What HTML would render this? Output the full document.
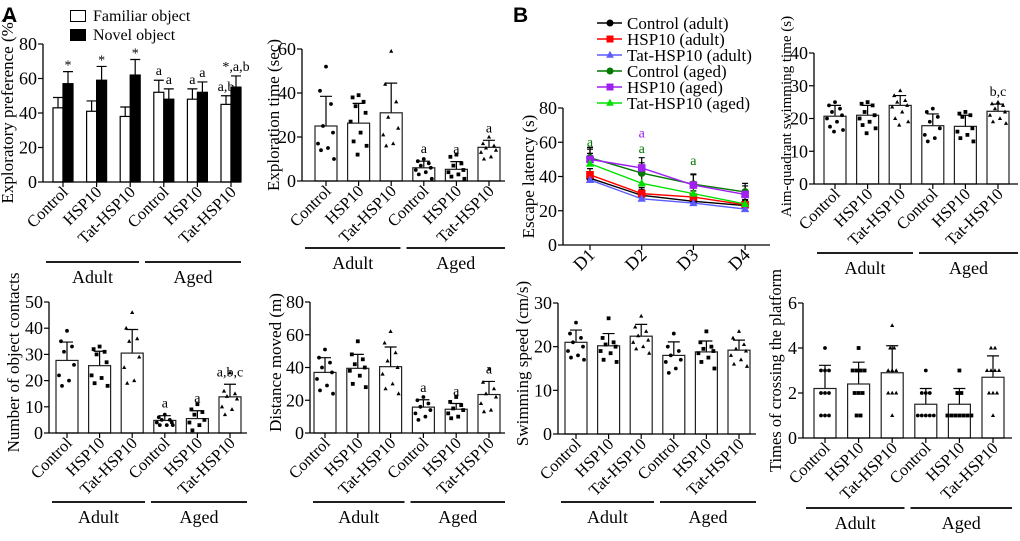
<!DOCTYPE html>
<html><head><meta charset="utf-8"><style>
html,body{margin:0;padding:0;background:#fff;}
svg, svg text{font-family:"Liberation Serif","Times New Roman","DejaVu Serif","Noto Serif CJK SC",serif;}
</style></head><body>
<svg id="fig" width="1020" height="536" viewBox="0 0 1020 536" xmlns="http://www.w3.org/2000/svg">
<text x="2" y="22" style="font-family:'Liberation Sans',sans-serif" font-weight="bold" font-size="21">A</text>
<text x="513" y="22" style="font-family:'Liberation Sans',sans-serif" font-weight="bold" font-size="21">B</text>
<g>
<rect x="70.5" y="10.5" width="15" height="11" fill="#fff" stroke="#000"/>
<text x="93" y="21" font-size="16">Familiar object</text>
<rect x="70.5" y="29.5" width="15" height="11" fill="#000" stroke="#000"/>
<text x="93" y="40" font-size="16">Novel object</text>
</g>
</svg>
<script>
const groupsCat = ["Control","HSP10","Tat-HSP10","Control","HSP10","Tat-HSP10"];
// Panel A1
const prefFamiliar = [43,41,38,52,48,45];
const prefFamiliarErr = [6,6,5.5,7,6,5];
const prefNovel = [57,59,62,48,52,55];
const prefNovelErr = [7,8,9,6,6,6.5];
const prefFamAnn = ["","","","a","a","a,b"];
const prefNovAnn = ["*","*","*","a","a","*,a,b"];
// Exploration time
const expTime = [25,26.3,31,6,5.3,15.3];
const expTimeErr = [13.5,9,13.5,3,3.5,3.2];
const expTimeAnn = ["","","","a","a","a"];
const expTimeDots = [[52,41,35,25,22,17,15,14,10],[39,38,36,34,31,27,22,18,16,12],[59,44,36,29,24,21,17,16],[10,9,8,7,6,5,4,3,1],[12,11,8,7,5,4,3,2,1],[20,17,16,15,14,13,11,10]];
// Contacts
const contacts = [27.7,25.7,30.5,4.8,5.5,13.8];
const contactsErr = [7,5.5,9,1.8,3,4.8];
const contactsAnn = ["","","","a","a","a,b,c"];
const contactsDots = [[39,35,33,31,26,22,20,18],[33,32,31,30,27,22,21,19,18],[46,40,36,35,29,25,20,19],[7,6,5,5,4,4,3,3,3],[11,9,8,7,5,4,3,1],[23,16,15,14,13,10,9,7]];
// Distance
const distance = [37,39.5,40.5,15.8,14.5,23.5];
const distanceErr = [9,8.5,12,4.5,3.5,8];
const distanceAnn = ["","","","a","a","a"];
const distanceDots = [[51,46,43,40,37,33,29,26,24],[56,48,45,42,40,38,35,30,28],[62,55,49,44,40,36,30,27,24],[22,20,18,16,14,12,10,8],[22,19,17,15,14,12,10,9],[39,31,27,24,22,18,14,13]];
// Swim speed
const speed = [21,20.2,22.4,18,18.8,19.2];
const speedErr = [2.8,2.8,2.7,3.1,2.5,2.3];
const speedAnn = ["","","","","",""];
const speedDots = [[25.5,23,22,21,20,19,18,17.5,17],[26.5,22,21,20.5,20,19,18.5,17,16.5],[27,24.5,23.5,22.5,21.5,21,20,19.5,18.5],[23,20,19,18,17,16.5,15,14],[23.5,21,20,19.5,19,18.5,17.5,16.5,15],[23.5,22,20.5,19.5,19,18,17,16,15.5]];
// Aim quadrant
const aimTime = [20.7,21,24,17.8,17.6,22.2];
const aimTimeErr = [3.3,3,3,3.6,3.4,2.2];
const aimAnn = ["","","","","","b,c"];
const aimDots = [[25,24,23,22,21,20,19,17.5,16.5,16],[25,24.5,24,22,21,20,19,18,17,15.5],[28.5,27,25.5,25,24,23.5,22,20,19,18],[23,22,20.5,19,17,15,14,13],[22,21.5,21,20.5,17,16,15,14,13],[25,24.5,24,23,22,21,20,19,18.5]];
// Crossings
const crossings = [2.2,2.4,2.9,1.5,1.5,2.7];
const crossingsErr = [1.03,0.97,1.2,0.7,0.7,0.95];
const crossAnn = ["","","","","",""];
const crossDots = [[4,3,3,3,2,2,2,1,1,1],[4,3,3,3,3,2,2,2,1,1],[5,4,4,3,3,3,2,2,2,1],[3,2,2,2,1,1,1,1,1],[3,2,2,1,1,1,1,1,1,1],[4,4,3,3,3,3,2,2,2,1]];
// Escape latency
const days = ["D1","D2","D3","D4"];
const latSeriesNames = ["Control (adult)","HSP10 (adult)","Tat-HSP10 (adult)","Control (aged)","HSP10 (aged)","Tat-HSP10 (aged)"];
const latCtrlAdult = [39,29,25.5,23];
const latHspAdult = [41,30,28,23.5];
const latTatAdult = [38,27,24.5,21];
const latCtrlAged = [51,42,35.5,31];
const latHspAged = [50,45,35,29.5];
const latTatAged = [47.5,36,30,24];
const latErr = [6,6,6,5];

const NS="http://www.w3.org/2000/svg";
const svg=document.getElementById('fig');
const JIT=[0,-6,5,-3,7,-8,2,-5,8,-1];
function mk(tag,attrs,parent){const e=document.createElementNS(NS,tag);for(const k in attrs)e.setAttribute(k,attrs[k]);(parent||svg).appendChild(e);return e;}
function marker(g,shape,x,y,r,color){
  let e;
  if(shape===0) e=mk('circle',{cx:x,cy:y,r:r,fill:color},g);
  else if(shape===1) e=mk('rect',{x:x-r,y:y-r,width:2*r,height:2*r,fill:color},g);
  else e=mk('polygon',{points:`${x},${y-r*1.2} ${x-r*1.1},${y+r*0.8} ${x+r*1.1},${y+r*0.8}`,fill:color},g);
  return e;
}
function axisY(g,o,ys){
  const ax=mk('line',{x1:o.ax,y1:o.y0,x2:o.ax,y2:o.yTop,stroke:'#000','stroke-width':1.3},g);
  
  
  const bx=mk('line',{x1:o.ax,y1:o.y0,x2:o.xEnd,y2:o.y0,stroke:'#000','stroke-width':1.3},g);
  
  
  for(let v=0;v<=o.ymax+1e-9;v+=o.step){
    const y=ys(v);
    const t=mk('line',{x1:o.ax-5,y1:y,x2:o.ax,y2:y,stroke:'#000','stroke-width':1.2},g);
    
    
    const l=mk('text',{x:o.ax-6,y:y+6,'font-size':18,'text-anchor':'end'},g);
    l.textContent=String(Math.round(v));
    
    
  }
  const tt=mk('text',{x:0,y:0,'font-size':o.tfs||17,'text-anchor':'middle',transform:`translate(${o.tx},${(o.y0+o.yTop)/2+(o.tdy||0)}) rotate(-90)`},g);
  tt.textContent=o.title;
  
  
}
function catLabels(g,o,centers){
  centers.forEach((c,i)=>{
    const t=mk('line',{x1:c,y1:o.y0,x2:c,y2:o.y0+5,stroke:'#000','stroke-width':1.2},g);
    
    
    const l=mk('text',{x:0,y:0,'font-size':16.5,'text-anchor':'end',transform:`translate(${c+6},${o.y0+11}) rotate(-45)`},g);
    l.textContent=groupsCat[i];
    
    
  });
  const mid=o.ax+(o.xEnd-o.ax)/2;
  [[o.ax+3,mid-3,'Adult'],[mid+3,o.xEnd,'Aged']].forEach(s=>{
    const ln=mk('line',{x1:s[0],y1:o.gy,x2:s[1],y2:o.gy,stroke:'#000','stroke-width':1.8},g);
    
    
    const tx=mk('text',{x:(s[0]+s[1])/2,y:o.gy+21,'font-size':18,'text-anchor':'middle'},g);
    tx.textContent=s[2];
    
    
  });
}
function errBar(g,x,yv,ye,cap){
  const e=mk('path',{d:`M${x},${yv}V${ye}M${x-cap},${ye}H${x+cap}`,stroke:'#000','stroke-width':1.2,fill:'none'},g);
  
  
}
function barPanel(o,vals,errs,dots,ann,name){
  const g=mk('g',{});
  
  
  const ys=v=>o.y0-(v/o.ymax)*(o.y0-o.yTop);
  const centers=vals.map((_,i)=>o.c0+i*o.cs);
  vals.forEach((v,i)=>{
    const c=centers[i];
    errBar(g,c,ys(v),ys(v+errs[i]),6);
    const b=mk('rect',{x:c-o.bw/2,y:ys(v),width:o.bw,height:o.y0-ys(v),fill:'#fff',stroke:'#222','stroke-width':1.2},g);
    
    
    const pts=dots[i];
    pts.forEach((d,k)=>{
      let off;
      if(o.discrete){
        let n=0;for(let j=0;j<k;j++) if(pts[j]===d) n++;
        let tot=pts.filter(p=>p===d).length;
        off=(n-(tot-1)/2)*4;
      } else off=JIT[k%JIT.length];
      const m=marker(g,i%3,c+off,ys(d),1.9,'#000');
      
      
    });
    if(ann[i]){
      const a=mk('text',{x:c,y:ys(v+errs[i])-8,'font-size':14,'text-anchor':'middle'},g);
      a.textContent=ann[i];
      
      
    }
  });
  axisY(g,o,ys);
  catLabels(g,o,centers);
}

// Panel A1 grouped bars
(function(){
  const o={ax:43,xEnd:241,y0:182,yTop:44,ymax:80,step:20,title:'Exploratory preference (%)',tx:13,tfs:17,gy:262,tdy:-3};
  const g=mk('g',{});
  
  
  const ys=v=>o.y0-(v/o.ymax)*(o.y0-o.yTop);
  const centers=prefFamiliar.map((_,i)=>63+i*33.6);
  centers.forEach((c,i)=>{
    const xf=c-5,xn=c+5;
    errBar(g,xf,ys(prefFamiliar[i]),ys(prefFamiliar[i]+prefFamiliarErr[i]),5);
    errBar(g,xn,ys(prefNovel[i]),ys(prefNovel[i]+prefNovelErr[i]),5);
    const b1=mk('rect',{x:xf-5,y:ys(prefFamiliar[i]),width:10,height:o.y0-ys(prefFamiliar[i]),fill:'#fff',stroke:'#000','stroke-width':1.2},g);
    
    
    const b2=mk('rect',{x:xn-5,y:ys(prefNovel[i]),width:10,height:o.y0-ys(prefNovel[i]),fill:'#000',stroke:'#000','stroke-width':1.2},g);
    
    
    [[xf,prefFamiliar[i]+prefFamiliarErr[i],prefFamAnn[i]],[xn,prefNovel[i]+prefNovelErr[i],prefNovAnn[i]]].forEach(s=>{
      if(!s[2])return;
      const a=mk('text',{x:s[0],y:ys(s[1])-5+(s[2]==='*'?3:0),'font-size':14,'text-anchor':'middle'},g);
      a.textContent=s[2];
      
      
    });
  });
  axisY(g,o,ys);
  catLabels(g,o,centers);
})();

barPanel({ax:302,xEnd:505,y0:181,yTop:49,ymax:60,step:20,c0:326,cs:32.6,bw:22,title:'Exploration time (sec)',tx:279,gy:248},expTime,expTimeErr,expTimeDots,expTimeAnn,'exploration-time-chart');
barPanel({ax:814,xEnd:1018,y0:184,yTop:53,ymax:40,step:10,c0:835,cs:32.6,bw:22,title:'Aim-quadrant swimming time (s)',tx:791,tdy:-2,tfs:15,gy:253},aimTime,aimTimeErr,aimDots,aimAnn,'aim-quadrant-chart');
barPanel({ax:49,xEnd:247,y0:433,yTop:302,ymax:50,step:10,c0:67,cs:32.6,bw:22,title:'Number of object contacts',tx:19,tdy:-5,gy:502},contacts,contactsErr,contactsDots,contactsAnn,'object-contacts-chart');
barPanel({ax:310,xEnd:505,y0:433,yTop:302,ymax:80,step:20,c0:325,cs:32.8,bw:22,title:'Distance moved (m)',tx:281,tdy:-5,gy:502},distance,distanceErr,distanceDots,distanceAnn,'distance-moved-chart');
barPanel({ax:558,xEnd:756,y0:434,yTop:303,ymax:30,step:10,c0:576,cs:32.6,bw:22,title:'Swimming speed (cm/s)',tx:528,tdy:-5,gy:502},speed,speedErr,speedDots,speedAnn,'swimming-speed-chart');
barPanel({ax:803,xEnd:1012,y0:438,yTop:303,ymax:6,step:2,c0:825,cs:33.6,bw:22,title:'Times of crossing the platform',tx:781,tdy:0,tfs:16.5,gy:508,discrete:true},crossings,crossingsErr,crossDots,crossAnn,'platform-crossing-chart');

// Escape latency line chart
(function(){
  const o={ax:563,xEnd:770,y0:245,yTop:108,ymax:80,step:20,title:'Escape latency (s)',tx:534};
  const g=mk('g',{});
  
  
  const ys=v=>o.y0-(v/o.ymax)*(o.y0-o.yTop);
  const xs=i=>590+i*51.7;
  const series=[latCtrlAdult,latHspAdult,latTatAdult,latCtrlAged,latHspAged,latTatAged];
  const colors=['#000','#f00','#5b5bff','#007a00','#a020f0','#00e000'];
  const shapes=[0,1,2,0,1,2];
  series.forEach((s,si)=>{
    s.forEach((v,i)=>errBar(g,xs(i),ys(v),ys(v+latErr[i]*(si<3?0.6:1)),3));
  });
  series.forEach((s,si)=>{
    const p=mk('polyline',{points:s.map((v,i)=>xs(i)+','+ys(v)).join(' '),fill:'none',stroke:colors[si],'stroke-width':1.4},g);
    
    
    s.forEach((v,i)=>{
      const m=marker(g,shapes[si],xs(i),ys(v),3.8,colors[si]);
      
      
    });
    const ly=23+si*16;
    const ll=mk('line',{x1:597,y1:ly,x2:622,y2:ly,stroke:colors[si],'stroke-width':1.4},g);
    
    
    const lm=marker(g,shapes[si],610,ly,3.5,colors[si]);
    
    
    const lt=mk('text',{x:627,y:ly+6,'font-size':17},g);
    lt.textContent=latSeriesNames[si];
    
    
  });
  [[0,60,'#007a00'],[1,65,'#a020f0'],[1,56,'#007a00'],[2,49,'#007a00']].forEach(a=>{
    const t=mk('text',{x:xs(a[0]),y:ys(a[1])+4,'font-size':14,'text-anchor':'middle',fill:a[2]},g);
    t.textContent='a';
    
    
  });
  axisY(g,o,ys);
  days.forEach((d,i)=>{
    const t=mk('line',{x1:xs(i),y1:o.y0,x2:xs(i),y2:o.y0+5,stroke:'#000','stroke-width':1.2},g);
    
    
    const l=mk('text',{x:0,y:0,'font-size':18,'text-anchor':'end',transform:`translate(${xs(i)+6},${o.y0+11}) rotate(-45)`},g);
    l.textContent=d;
    
    
  });
})();
</script>
</body></html>
